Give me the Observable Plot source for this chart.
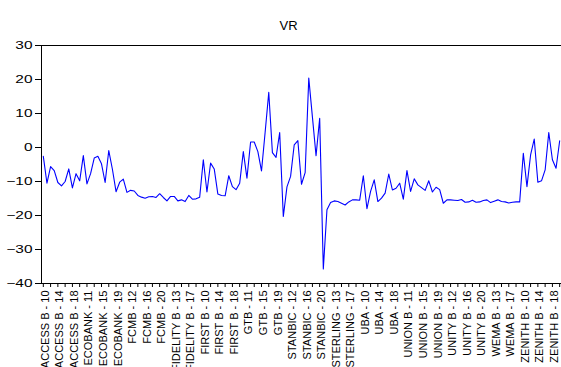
<!DOCTYPE html>
<html><head><meta charset="utf-8">
<script src="https://cdn.jsdelivr.net/npm/d3@7"></script>
<script src="https://cdn.jsdelivr.net/npm/@observablehq/plot@0.6"></script>
<style>
body{margin:0;background:#fff;}
svg{font-family:Arial,"Liberation Sans",sans-serif;}
</style>
</head><body><div id="chart"></div>
<script>
const title = "VR";
const banks = ["ACCESS B","ECOBANK","FCMB","FIDELITY B","FIRST B","GTB","STANBIC","STERLING","UBA","UNION B","UNITY B","WEMA B","ZENITH B"];
const years = [10,11,12,13,14,15,16,17,18,19,20];
const vr = [
 -2.6,-10.5,-5.6,-6.8,-10.3,-11.3,-10.0,-6.3,-11.9,-7.7,-9.8,
 -2.4,-10.7,-7.7,-3.1,-2.6,-4.8,-10.3,-0.9,-6.4,-13.0,-10.2,
 -9.3,-13.2,-12.6,-12.8,-14.1,-14.6,-14.9,-14.5,-14.4,-14.7,-13.6,
 -14.7,-15.7,-14.4,-14.4,-15.7,-15.4,-15.9,-14.1,-15.2,-15.1,-14.6,
 -3.6,-13.1,-4.6,-6.3,-13.7,-14.1,-14.2,-8.3,-11.5,-12.4,-10.5,
 -1.2,-9.0,1.6,1.6,-1.2,-6.9,4.5,16.2,-1.5,-2.9,4.4,
 -20.3,-11.6,-8.5,0.8,2.0,-10.8,-7.4,20.4,9.0,-2.4,8.6,
 -35.7,-18.3,-16.2,-15.7,-15.9,-16.4,-16.9,-16.0,-15.4,-15.4,-15.5,
 -8.3,-18.0,-12.9,-9.5,-15.9,-14.9,-13.4,-7.8,-12.5,-12.0,-10.5,
 -15.2,-6.8,-12.9,-9.2,-11.0,-11.8,-12.6,-9.8,-13.1,-11.7,-12.4,
 -16.4,-15.4,-15.4,-15.5,-15.6,-15.3,-16.1,-16.0,-15.5,-16.1,-16.0,
 -15.6,-15.4,-16.2,-15.8,-15.4,-15.9,-16.0,-16.3,-16.1,-16.0,-16.0,
 -1.7,-11.5,-2.2,2.5,-10.2,-9.8,-6.6,4.4,-3.6,-6.1,2.0
];
const yTicks = [-40,-30,-20,-10,0,10,20,30];

const labels = banks.flatMap(b => years.map(y => `${b} - ${y}`));
const data = labels.map((label, i) => ({label, value: vr[i]}));
const minorTicks = labels.filter((d, i) => i % 2 === 0);
const labelTicks = labels.filter((d, i) => i % 4 === 0);

const chart = Plot.plot({
  width: 561, height: 367,
  marginLeft: 41, marginRight: 0, marginTop: 45, marginBottom: 84,
  style: {fontFamily: 'Arial, "Liberation Sans", sans-serif', fontSize: "11px", color: "#000", background: "#fff"},
  x: {type: "point", domain: labels, padding: 0.5},
  y: {domain: [d3.min(yTicks), d3.max(yTicks)]},
  marks: [
    Plot.frame({anchor: "top", stroke: "#000"}),
    Plot.frame({anchor: "left", stroke: "#000"}),
    Plot.frame({anchor: "bottom", stroke: "#000"}),
    Plot.axisY({ticks: yTicks, tickSize: 6, tickPadding: 3, fontSize: 11, label: null}),
    Plot.axisX({ticks: minorTicks, tickSize: 4, tickFormat: () => "", label: null}),
    Plot.axisX({ticks: labelTicks, tickSize: 0, tickRotate: -90, tickPadding: 7, dx: 2, fontSize: 11, label: null}),
    Plot.line(data, {x: "label", y: "value", stroke: "#0000ff", strokeWidth: 1.1}),
    Plot.text([title], {frameAnchor: "top", dy: -25, dx: -13, fontSize: 13, fill: "#000"})
  ]
});
document.getElementById("chart").appendChild(chart);
// widen the y tick labels horizontally, as in the reference
d3.select(chart).selectAll('g[aria-label="y-axis tick label"] text').each(function () {
  const w = this.getComputedTextLength();
  if (w > 0) {
    this.setAttribute("textLength", (w * 1.4).toFixed(2));
    this.setAttribute("lengthAdjust", "spacingAndGlyphs");
  }
});
</script>
</body></html>
